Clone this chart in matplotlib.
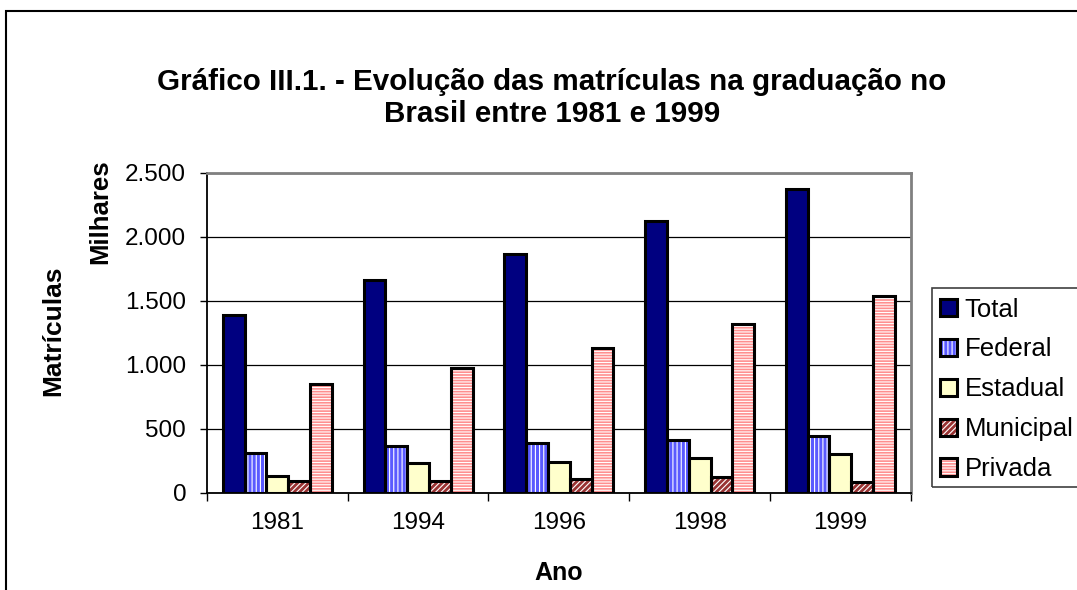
import matplotlib
matplotlib.use('Agg')
import matplotlib.pyplot as plt
from matplotlib.patches import Rectangle, Patch
from matplotlib.ticker import FuncFormatter, FixedLocator
from matplotlib.legend_handler import HandlerTuple
import numpy as np

plt.rcParams['font.family'] = ['Liberation Sans', 'DejaVu Sans']
plt.rcParams['hatch.linewidth'] = 0.8

# dados (milhares de matrículas)
anos = ['1981', '1994', '1996', '1998', '1999']
series = ['Total', 'Federal', 'Estadual', 'Municipal', 'Privada']
total = [1386.8, 1661.0, 1868.5, 2126.0, 2369.9]
federal = [313.2, 363.5, 389.0, 408.6, 442.6]
estadual = [129.7, 231.9, 243.1, 274.9, 302.4]
municipal = [92.9, 95.0, 103.3, 121.2, 87.1]
privada = [851.0, 970.6, 1133.1, 1321.2, 1537.9]

valores = [total, federal, estadual, municipal, privada]
cores = ['#000080', '#5a5aff', '#ffffcc', '#993333', '#ff8f8f']
hachuras = [None, '||||', None, '//////', '------']

fig = plt.figure(figsize=(10.77, 5.9), dpi=100, facecolor='white')
ax = fig.add_axes([0.1922, 0.1649, 0.6534, 0.5424])

x = np.arange(len(anos))
w = 0.155
handles = []
for i, (nome, vals, cor, hch) in enumerate(zip(series, valores, cores, hachuras)):
    pos = x + (i - 2) * w
    # preenchimento com hachura branca, depois o contorno preto
    ax.bar(pos, vals, w, color=cor, edgecolor='white' if hch else cor,
           hatch=hch, linewidth=0, zorder=3)
    ax.bar(pos, vals, w, fill=False, edgecolor='black', linewidth=2.2, zorder=4)
    fundo = Patch(facecolor=cor, edgecolor='white' if hch else cor, hatch=hch, linewidth=0)
    borda = Patch(fill=False, edgecolor='black', linewidth=2.2)
    handles.append((fundo, borda))

ax.set_xlim(-0.5, len(anos) - 0.5)
ax.set_ylim(0, 2500)
ax.set_yticks(np.arange(0, 2501, 500))
ax.yaxis.set_major_formatter(FuncFormatter(lambda v, p: f'{int(v):,}'.replace(',', '.')))
ax.yaxis.grid(True, color='black', linewidth=0.9, zorder=0)
ax.set_axisbelow(True)

ax.set_xticks(x)
ax.set_xticklabels(anos)
ax.xaxis.set_minor_locator(FixedLocator(np.arange(-0.5, len(anos), 1.0)))
ax.tick_params(axis='x', which='major', length=0, pad=14, labelsize=17.5)
ax.tick_params(axis='x', which='minor', length=6, width=1, direction='out', color='black')
ax.tick_params(axis='y', length=5, width=1, pad=10, labelsize=17.5, color='black')

for lado in ['top', 'right']:
    ax.spines[lado].set_color('#808080')
    ax.spines[lado].set_linewidth(2)
for lado in ['left', 'bottom']:
    ax.spines[lado].set_color('black')
    ax.spines[lado].set_linewidth(1.3)

fig.text(552 / 1077, 1 - 98 / 590,
         'Gráfico III.1. - Evolução das matrículas na graduação no\nBrasil entre 1981 e 1999',
         ha='center', va='center', fontsize=21.3, fontweight='bold', linespacing=1.2)
fig.text(53 / 1077, 1 - 331 / 590, 'Matrículas', rotation=90, ha='center', va='center',
         fontsize=19, fontweight='bold')
fig.text(100 / 1077, 1 - 212 / 590, 'Milhares', rotation=90, ha='center', va='center',
         fontsize=18.5, fontweight='bold')
fig.text(559 / 1077, 1 - 573 / 590, 'Ano', ha='center', va='center',
         fontsize=18, fontweight='bold')

# legenda
fig.add_artist(Rectangle((931.5 / 1077, 1 - 487 / 590), 0.2, (487 - 288) / 590,
                         transform=fig.transFigure, fill=False, edgecolor='#404040',
                         linewidth=1.2))
fig.legend(handles, series, loc='upper left', bbox_to_anchor=(919 / 1077, 1 - 277 / 590),
           frameon=False, fontsize=18.5, handlelength=0.68, handleheight=0.68,
           handletextpad=0.3, labelspacing=0.62, borderpad=0.3,
           handler_map={tuple: HandlerTuple(ndivide=1)})

# moldura externa do gráfico
fig.add_artist(Rectangle((6 / 1077, -0.1), 1.2, 1.1 - 11 / 590, transform=fig.transFigure,
                         fill=False, edgecolor='black', linewidth=1.5))

fig.savefig('out.png', dpi=100, facecolor='white')
